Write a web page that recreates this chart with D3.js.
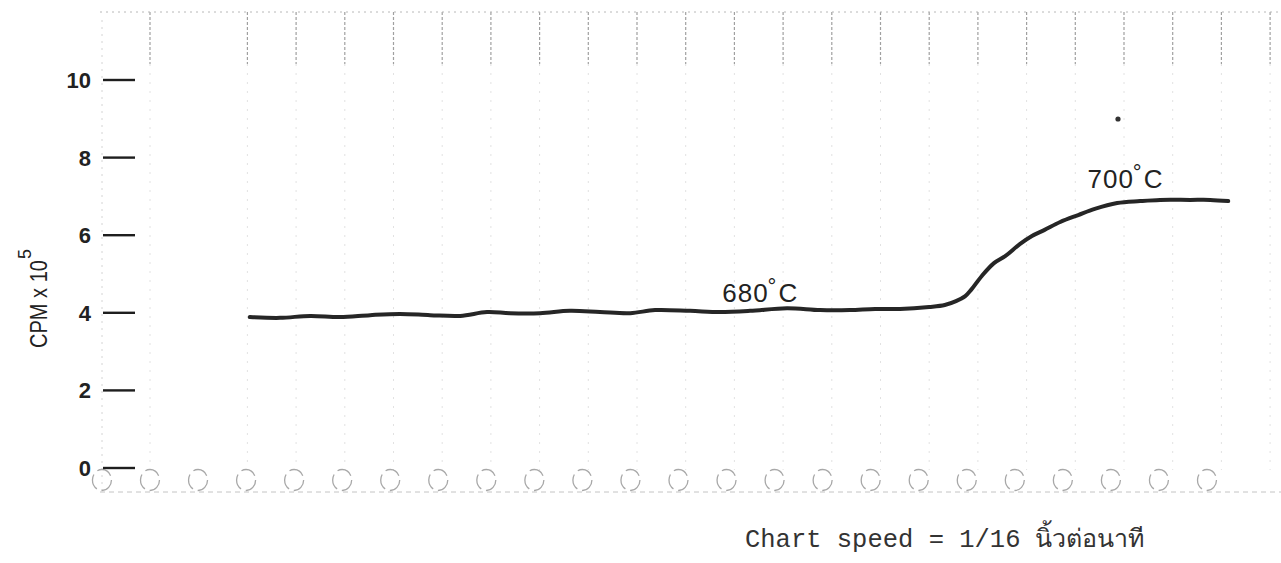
<!DOCTYPE html>
<html>
<head>
<meta charset="utf-8">
<script src="https://cdn.jsdelivr.net/npm/d3@7"></script>
<style>
  html, body { margin: 0; padding: 0; background: #ffffff; }
  svg { display: block; }
</style>
</head>
<body>
<svg id="chart" width="1281" height="563"></svg>
<script>
// ---- data ----
// x in chart divisions (one division = one sprocket-hole pitch), y in CPM x 10^5
const traceX = [2.05, 2.67, 3.29, 3.90, 4.52, 5.13, 5.75, 6.37, 6.92, 7.39, 8.01, 8.62, 9.24, 9.86,
  10.37, 11.09, 11.70, 12.32, 13.08, 13.76, 14.37, 14.89, 15.40, 16.00, 16.32, 16.55, 16.74, 16.86,
  17.08, 17.33, 17.56, 17.86, 18.11, 18.36, 18.69, 19.06, 19.40, 19.86, 20.33, 20.74, 21.36, 21.77, 22.14];
const traceY = [3.89, 3.87, 3.92, 3.89, 3.94, 3.97, 3.94, 3.92, 4.02, 3.99, 3.99, 4.05, 4.02, 3.99,
  4.07, 4.05, 4.02, 4.05, 4.12, 4.07, 4.07, 4.10, 4.10, 4.15, 4.20, 4.30, 4.43, 4.59,
  4.95, 5.28, 5.46, 5.77, 5.98, 6.13, 6.34, 6.52, 6.68, 6.83, 6.88, 6.91, 6.91, 6.91, 6.88];

const yTicks = [0, 2, 4, 6, 8, 10];
const yTickLabels = ["0", "2", "4", "6", "8", "10"];

const annotTemps = ["680", "700"];
const annotX = [11.75, 19.25];
const annotY = [4.28, 7.22];

const yLabelMain = "CPM x 10";
const yLabelExp = "5";
const speedText = "Chart speed = 1/16";
const speedUnit = "นิ้วต่อนาที";

// ---- drawing ----
const svg = d3.select("#chart");
const x = d3.scaleLinear().domain([0, 24]).range([150, 150 + 24 * 48.7]);
const y = d3.scaleLinear().domain([0, 10]).range([468, 80]);

// faint paper grid (decorative)
const gridDiv = d3.range(0, 24).filter(d => d !== 1);
const grid = svg.append("g");
grid.selectAll("line.top").data(gridDiv).join("line")
  .attr("x1", d => x(d)).attr("x2", d => x(d))
  .attr("y1", 12).attr("y2", 64)
  .attr("stroke", "#a0a0a0").attr("stroke-width", 1.2).attr("stroke-dasharray", "3,2");
grid.selectAll("line.low").data(gridDiv).join("line")
  .attr("x1", d => x(d)).attr("x2", d => x(d))
  .attr("y1", 64).attr("y2", 470)
  .attr("stroke", "#e2e2e2").attr("stroke-width", 1).attr("stroke-dasharray", "2,7");
grid.append("line").attr("x1", 100).attr("x2", 1281).attr("y1", 12).attr("y2", 12)
  .attr("stroke", "#b8b8b8").attr("stroke-width", 1).attr("stroke-dasharray", "2,4");
grid.append("line").attr("x1", 102).attr("x2", 102).attr("y1", 20).attr("y2", 495)
  .attr("stroke", "#d4d4d4").attr("stroke-width", 1).attr("stroke-dasharray", "2,5");
grid.append("line").attr("x1", 100).attr("x2", 1281).attr("y1", 492).attr("y2", 492)
  .attr("stroke", "#c4c4c4").attr("stroke-width", 1).attr("stroke-dasharray", "5,4");

// sprocket holes (decorative)
const xHole = d3.scaleLinear().domain([0, 22]).range([150, 1207]);
svg.append("g").selectAll("ellipse").data(d3.range(-1, 23)).join("ellipse")
  .attr("cx", d => xHole(d)).attr("cy", 480).attr("rx", 9.5).attr("ry", 10.5)
  .attr("fill", "none").attr("stroke", "#a8a8a8").attr("stroke-width", 1.3)
  .attr("stroke-dasharray", "16,5");

// y axis ticks and labels
const yAxis = svg.append("g");
yAxis.selectAll("line").data(yTicks).join("line")
  .attr("x1", 103).attr("x2", 135)
  .attr("y1", d => y(d)).attr("y2", d => y(d))
  .attr("stroke", "#1e1e1e").attr("stroke-width", 2.4);
yAxis.selectAll("text").data(yTicks).join("text")
  .attr("x", 91).attr("y", d => y(d) + 8)
  .attr("text-anchor", "end")
  .attr("font-family", "Liberation Sans, Arial, sans-serif")
  .attr("font-size", 22).attr("font-weight", "bold").attr("fill", "#222")
  .text((d, i) => yTickLabels[i]);

// y axis title
const yt = svg.append("text")
  .attr("transform", "translate(47,348) rotate(-90)")
  .attr("font-family", "Liberation Sans, Arial, sans-serif")
  .attr("font-size", 23).attr("fill", "#222");
yt.append("tspan").attr("textLength", 88).attr("lengthAdjust", "spacingAndGlyphs").text(yLabelMain);
yt.append("tspan").attr("dy", -16).attr("dx", 1).attr("font-size", 18).text(yLabelExp);

// trace
const pts = traceX.map((d, i) => [d, traceY[i]]);
svg.append("path").datum(pts)
  .attr("fill", "none").attr("stroke", "#262626").attr("stroke-width", 4)
  .attr("stroke-linejoin", "round").attr("stroke-linecap", "round")
  .attr("d", d3.line().x(d => x(d[0])).y(d => y(d[1])).curve(d3.curveCatmullRom.alpha(0.5)));

// temperature annotations
annotTemps.forEach((t, i) => {
  const g = svg.append("text")
    .attr("x", x(annotX[i])).attr("y", y(annotY[i]))
    .attr("font-family", "Liberation Sans, Arial, sans-serif")
    .attr("font-size", 26).attr("fill", "#222").attr("letter-spacing", 1);
  g.append("tspan").text(t);
  g.append("tspan").attr("dy", -8).attr("dx", -1).attr("font-size", 22).text("°");
  g.append("tspan").attr("dy", 8).attr("dx", 1).text("C");
});

// small ink dot near 700 (scan mark)
svg.append("circle").attr("cx", 1118).attr("cy", 119).attr("r", 2.6).attr("fill", "#333");

// chart speed note
svg.append("text").attr("x", 745).attr("y", 547)
  .attr("font-family", "Liberation Mono, DejaVu Sans Mono, monospace")
  .attr("font-size", 25.5).attr("fill", "#333")
  .text(speedText);
svg.append("text").attr("x", 1035).attr("y", 547)
  .attr("font-family", "Liberation Mono, DejaVu Sans, sans-serif")
  .attr("font-size", 25).attr("fill", "#333")
  .text(speedUnit);
</script>
</body>
</html>
